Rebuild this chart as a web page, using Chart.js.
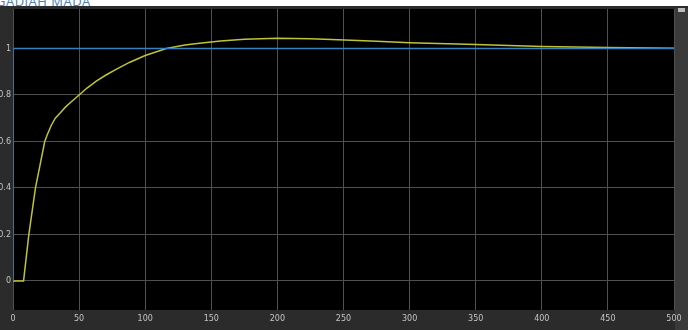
<!DOCTYPE html>
<html>
<head>
<meta charset="utf-8">
<script src="https://cdn.jsdelivr.net/npm/chart.js@4"></script>
<style>
  html, body { margin: 0; padding: 0; background: #2b2b2b; width: 688px; height: 330px; overflow: hidden; }
  #top { position: absolute; left: 0; top: 0; width: 688px; height: 6px; background: #fff; overflow: hidden; }
  #top span { position: absolute; left: -4px; top: -8px; font: 13px "Open Sans", sans-serif; color: #4a80b4; letter-spacing: 0.5px; }
  #side { position: absolute; left: 675px; top: 8px; width: 13px; height: 322px; background: #3a3a3a; }
  #side i { position: absolute; left: 3px; top: 0; width: 7px; height: 4px; background: #bbb; }
  canvas { position: absolute; left: 0; top: 0; }
</style>
</head>
<body>
<div id="top"><span>GADJAH MADA</span></div>
<div id="side"><i></i></div>
<canvas id="c" width="688" height="330"></canvas>
<script>
// tiempo (s) y respuesta
const tiempo = [0, 8, 12, 17, 24, 26, 29, 32, 36, 40, 45, 50, 56, 63, 70, 78, 88, 100, 116, 130, 141, 157, 175, 200, 225, 251, 275, 300, 350, 400, 450, 500];
const salida = [0, 0, 0.2, 0.4, 0.6, 0.63, 0.67, 0.70, 0.725, 0.75, 0.775, 0.80, 0.83, 0.86, 0.885, 0.91, 0.94, 0.97, 1.0, 1.015, 1.023, 1.032, 1.04, 1.044, 1.042, 1.037, 1.031, 1.025, 1.017, 1.009, 1.004, 1.001];

// escalón de referencia
const tiempoRef = [0, 0, 500];
const escalon = [0, 1, 1];

const xTicks = [0, 50, 100, 150, 200, 250, 300, 350, 400, 450, 500];
const yTicks = [0, 0.2, 0.4, 0.6, 0.8, 1];

const fondo = {
  id: "fondo",
  beforeDraw(chart) {
    const a = chart.chartArea, c = chart.ctx;
    c.save();
    c.fillStyle = "#000";
    c.fillRect(a.left, a.top, a.right - a.left, a.bottom - a.top);
    c.restore();
  }
};

new Chart(document.getElementById("c"), {
  type: "line",
  data: {
    datasets: [
      {
        data: tiempoRef.map((t, i) => ({ x: t, y: escalon[i] })),
        borderColor: "#3a7fbf",
        borderWidth: 1.3,
        pointRadius: 0,
        tension: 0
      },
      {
        data: tiempo.map((t, i) => ({ x: t, y: salida[i] })),
        borderColor: "#c2c238",
        borderWidth: 1.5,
        pointRadius: 0,
        tension: 0
      }
    ]
  },
  options: {
    responsive: false,
    animation: false,
    layout: { padding: { top: 9, right: 14, left: 0, bottom: 0 } },
    plugins: { legend: { display: false }, tooltip: { enabled: false } },
    scales: {
      x: {
        type: "linear",
        min: 0,
        max: 500,
        afterBuildTicks: s => { s.ticks = xTicks.map(v => ({ value: v })); },
        afterFit: s => { s.height = 20; },
        ticks: { color: "#c4c4c4", font: { size: 8, family: "DejaVu Sans" }, padding: 4, maxRotation: 0 },
        grid: { color: "#505050", drawTicks: false },
        border: { display: false }
      },
      y: {
        type: "linear",
        min: -0.125,
        max: 1.17,
        afterBuildTicks: s => { s.ticks = yTicks.map(v => ({ value: v })); },
        afterFit: s => { s.width = 13; },
        ticks: { color: "#c4c4c4", font: { size: 8, family: "DejaVu Sans" }, padding: 2, callback: v => String(v) },
        grid: { color: "#505050", drawTicks: false },
        border: { display: false }
      }
    }
  },
  plugins: [fondo]
});
</script>
</body>
</html>
